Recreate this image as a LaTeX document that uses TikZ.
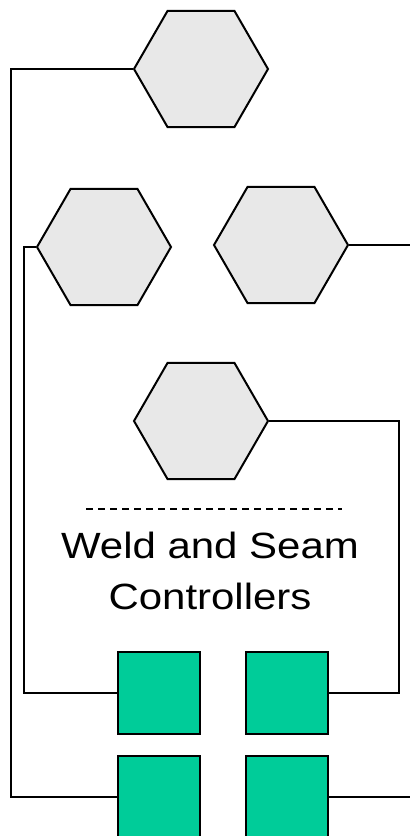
\documentclass[tikz,border=0pt]{standalone}
\usepackage{fontspec}
\setmainfont{Liberation Sans}
\definecolor{hexgray}{HTML}{E8E8E8}
\definecolor{ctlgreen}{HTML}{00CC99}
\usetikzlibrary{shapes.geometric}
\tikzset{>=latex}

\begin{document}
\begin{tikzpicture}[x=1pt, y=-1pt, line width=2pt,
  hexa/.style={regular polygon, regular polygon sides=6, draw, fill=hexgray, minimum size=134pt, inner sep=0pt},
  ctl/.style={rectangle, draw, fill=ctlgreen, minimum size=82pt, inner sep=0pt},
  link/.style={draw, line width=2pt}]
\useasboundingbox (0,0) rectangle (410,836);
\node[hexa] (hexTop) at (201,69) {};
\node[hexa] (hexMidL) at (104,247) {};
\node[hexa] (hexMidR) at (281,245) {};
\node[hexa] (hexLow) at (201,421) {};
\node[ctl] (ctlA) at (159,693) {};
\node[ctl] (ctlB) at (287,693) {};
\node[ctl] (ctlC) at (159,797) {};
\node[ctl] (ctlD) at (287,797) {};
\coordinate (outA) at (410,245);
\coordinate (outB) at (410,797);
\coordinate (sepL) at (86,509);
\coordinate (sepR) at (342,509);
\draw[line width=1.5pt, dash pattern=on 7pt off 5pt] (sepL) -- (sepR);
\node[align=center, font=\fontsize{36.5}{51}\selectfont, transform shape, xscale=1.15] (title) at (210,571) {Weld and Seam\\Controllers};
  \path[link]
    (hexTop.west) -- ++(-122,0) |- (ctlC.west)
    (hexMidL.west) -- ++(-12,0) |- (ctlA.west)
    (hexMidR.east) -- (outA)
    (hexLow.east) -- ++(130,0) |- (ctlB.east)
    (ctlD.east) -- (outB);
\end{tikzpicture}
\end{document}
